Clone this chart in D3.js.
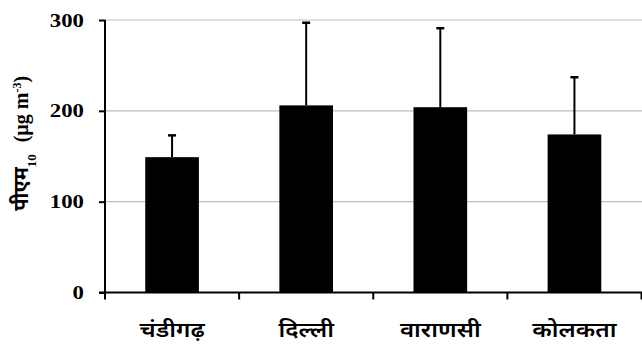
<!DOCTYPE html>
<html>
<head>
<meta charset="utf-8">
<script src="https://cdn.jsdelivr.net/npm/d3@7/dist/d3.min.js"></script>
<style>
  html, body { margin: 0; padding: 0; background: #fff; }
  svg { display: block; }
</style>
</head>
<body>
<svg id="chart" width="642" height="349"></svg>
<script>
// PM10 mean concentration by city, with standard deviation (upper whisker)
const cities = ["चंडीगढ़", "दिल्ली", "वाराणसी", "कोलकता"];
const meanPM10 = [149, 206, 204, 174];
const sdPM10 = [24, 91, 87, 63];
const yTicks = [0, 100, 200, 300];

const svg = d3.select("#chart");
const margin = { left: 105, right: 0, top: 20, bottom: 57 };
const W = 642, H = 349;

const x = d3.scaleBand()
  .domain(cities)
  .range([margin.left, W - 0.5])
  .paddingInner(0.6)
  .paddingOuter(0.3);

const y = d3.scaleLinear()
  .domain([0, 300])
  .range([H - margin.bottom + 0.5, margin.top]);

// horizontal gridlines
svg.append("g")
  .selectAll("line")
  .data(yTicks.filter(d => d > 0))
  .join("line")
  .attr("x1", margin.left)
  .attr("x2", W)
  .attr("y1", d => y(d))
  .attr("y2", d => y(d))
  .attr("stroke", "#bdbdbd")
  .attr("stroke-width", 1.2);

// error bars (upper only)
const err = svg.append("g");
cities.forEach((c, i) => {
  const cx = x(c) + x.bandwidth() / 2;
  err.append("line")
    .attr("x1", cx).attr("x2", cx)
    .attr("y1", y(meanPM10[i])).attr("y2", y(meanPM10[i] + sdPM10[i]))
    .attr("stroke", "#000").attr("stroke-width", 2);
  err.append("line")
    .attr("x1", cx - 4).attr("x2", cx + 4)
    .attr("y1", y(meanPM10[i] + sdPM10[i])).attr("y2", y(meanPM10[i] + sdPM10[i]))
    .attr("stroke", "#000").attr("stroke-width", 2.5);
});

// bars
svg.append("g")
  .selectAll("rect")
  .data(cities)
  .join("rect")
  .attr("x", d => x(d))
  .attr("width", x.bandwidth())
  .attr("y", (d, i) => y(meanPM10[i]))
  .attr("height", (d, i) => y(0) - y(meanPM10[i]))
  .attr("fill", "#000");

// y axis
const yAxis = svg.append("g")
  .attr("transform", `translate(${margin.left},0)`)
  .call(d3.axisLeft(y).tickValues(yTicks).tickSize(6).tickFormat(d3.format("d")));
yAxis.select(".domain").attr("stroke", "#000").attr("stroke-width", 2).attr("d", `M0,${y(0)}V${y(300)}`);
yAxis.selectAll(".tick line").attr("stroke", "#000").attr("stroke-width", 2);
const sx = 1.2;
yAxis.selectAll(".tick text")
  .attr("fill", "#000")
  .attr("x", -21 / sx)
  .attr("transform", `scale(${sx},1)`)
  .style("font-family", "'Liberation Serif', 'Times New Roman', serif")
  .style("font-weight", "bold")
  .style("font-size", "19px");

// x axis: baseline with ticks at category boundaries
const bounds = cities.map(c => x(c) - x.step() * x.paddingInner() / 2);
bounds[0] = margin.left;
bounds.push(W - 0.5);
const xAxis = svg.append("g");
xAxis.append("line")
  .attr("x1", margin.left - 6).attr("x2", W)
  .attr("y1", y(0)).attr("y2", y(0))
  .attr("stroke", "#000").attr("stroke-width", 2);
xAxis.selectAll("line.tk")
  .data(bounds)
  .join("line")
  .attr("class", "tk")
  .attr("x1", d => d).attr("x2", d => d)
  .attr("y1", y(0)).attr("y2", y(0) + 7)
  .attr("stroke", "#000").attr("stroke-width", 2);

xAxis.selectAll("text")
  .data(cities)
  .join("text")
  .attr("transform", d => `translate(${x(d) + x.bandwidth() / 2},337) scale(1.15,1)`)
  .attr("text-anchor", "middle")
  .style("font-family", "'Noto Sans Devanagari', 'Noto Sans', sans-serif")
  .style("font-size", "21px")
  .style("font-weight", "600")
  .attr("fill", "#000")
  .text(d => d);

// y axis title
const title = svg.append("text")
  .attr("transform", `translate(28,${(y(0) + y(300)) / 2 - 13}) rotate(-90)`)
  .attr("text-anchor", "middle")
  .attr("fill", "#000")
  .style("font-weight", "bold")
  .style("font-size", "20px");
title.append("tspan")
  .style("font-family", "'Noto Sans Devanagari', 'Noto Sans', sans-serif")
  .text("पीएम");
title.append("tspan")
  .style("font-family", "'Liberation Serif', serif")
  .attr("baseline-shift", "sub")
  .style("font-size", "13px")
  .text("10");
title.append("tspan")
  .style("font-family", "'Liberation Serif', serif")
  .attr("dx", 12)
  .text("(µg m");
title.append("tspan")
  .style("font-family", "'Liberation Serif', serif")
  .attr("baseline-shift", "super")
  .style("font-size", "12px")
  .text("-3");
title.append("tspan")
  .style("font-family", "'Liberation Serif', serif")
  .text(")");
</script>
</body>
</html>
